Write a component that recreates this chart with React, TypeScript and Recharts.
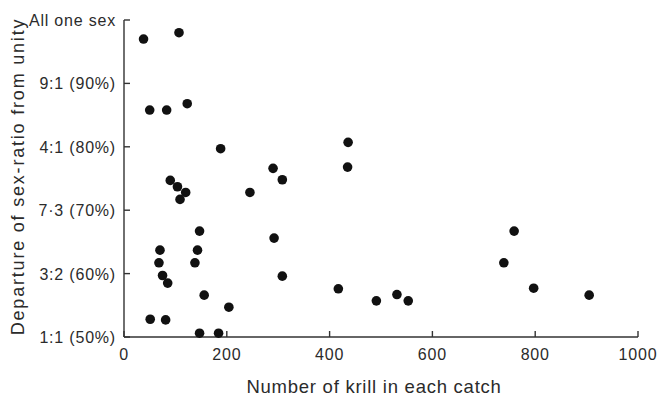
import { Label, Scatter, ScatterChart, XAxis, YAxis } from "recharts";

// krill per catch and the matching share of the commoner sex (%)
const krillCount = [
  38, 107, 50, 83, 123, 188, 436, 435, 290, 308, 245, 90, 104, 120, 109, 147, 292, 70, 68,
  143, 138, 75, 85, 308, 156, 204, 417, 491, 531, 553, 51, 81, 147, 184, 759, 739, 797, 905,
];
const sexRatio = [
  97, 98, 85.8, 85.8, 86.8, 79.7, 80.7, 76.8, 76.6, 74.8, 72.8, 74.7, 73.7, 72.8, 71.7, 66.7,
  65.6, 63.7, 61.7, 63.7, 61.7, 59.7, 58.5, 59.6, 56.6, 54.7, 57.6, 55.7, 56.7, 55.7, 52.8,
  52.7, 50.6, 50.6, 66.7, 61.7, 57.7, 56.6,
];

const xTicks = [0, 200, 400, 600, 800, 1000];
const yTicks = [50, 60, 70, 80, 90, 100];
const yTickLabels = ["1:1 (50%)", "3:2 (60%)", "7·3 (70%)", "4:1 (80%)", "9:1 (90%)", "All one sex"];

const catches = krillCount.map((n, i) => ({ n, ratio: sexRatio[i] }));

const FONT = '"Liberation Sans", Arial, sans-serif';
const INK = "#2b2b2b";

function XTick({ x, y, payload }: any) {
  return (
    <g>
      <line x1={x} x2={x} y1={y} y2={y - 6} stroke="#333" strokeWidth={1.4} />
      <text x={x} y={y + 23} textAnchor="middle" fontSize={16} letterSpacing={0.8} fill={INK} fontFamily={FONT}>
        {payload.value}
      </text>
    </g>
  );
}

function YTick({ x, y, payload, index }: any) {
  return (
    <g>
      <line x1={x} x2={x + 6} y1={y} y2={y} stroke="#333" strokeWidth={1.4} />
      <text x={x - 8} y={y + 6} textAnchor="end" fontSize={16} letterSpacing={0.8} fill={INK} fontFamily={FONT}>
        {yTickLabels[index] ?? payload.value}
      </text>
    </g>
  );
}

export default function App() {
  return (
    <div style={{ position: "absolute", left: 0, top: 0, background: "#fff" }}>
      <ScatterChart width={668} height={398} margin={{ top: 20, right: 30, bottom: 0, left: 0 }}>
        <XAxis
          type="number"
          dataKey="n"
          domain={[0, 1000]}
          ticks={xTicks}
          tickSize={0}
          tickMargin={0}
          tick={<XTick />}
          height={61}
          axisLine={{ stroke: "#333", strokeWidth: 1.4 }}
          tickLine={false}
        >
          <Label
            content={({ viewBox }: any) => (
              <text
                x={viewBox.x + viewBox.width / 2 - 7}
                y={viewBox.y + 56}
                textAnchor="middle"
                fontSize={18.5}
                letterSpacing={0.75}
                fill={INK}
                fontFamily={FONT}
              >
                Number of krill in each catch
              </text>
            )}
          />
        </XAxis>
        <YAxis
          type="number"
          dataKey="ratio"
          domain={[50, 100]}
          ticks={yTicks}
          tickSize={0}
          tickMargin={0}
          tick={<YTick />}
          width={124}
          axisLine={{ stroke: "#333", strokeWidth: 1.4 }}
          tickLine={false}
        >
          <Label
            content={({ viewBox }: any) => {
              const cx = viewBox.x + 24;
              const cy = viewBox.y + viewBox.height / 2 - 2;
              return (
                <text
                  x={cx}
                  y={cy}
                  transform={`rotate(-90 ${cx} ${cy})`}
                  textAnchor="middle"
                  fontSize={18}
                  letterSpacing={1.8}
                  fill={INK}
                  fontFamily={FONT}
                >
                  Departure of sex-ratio from unity
                </text>
              );
            }}
          />
        </YAxis>
        <Scatter
          data={catches}
          fill="#111"
          isAnimationActive={false}
          shape={(p: any) => <circle cx={p.cx} cy={p.cy} r={4.8} fill="#111" />}
        />
      </ScatterChart>
    </div>
  );
}
